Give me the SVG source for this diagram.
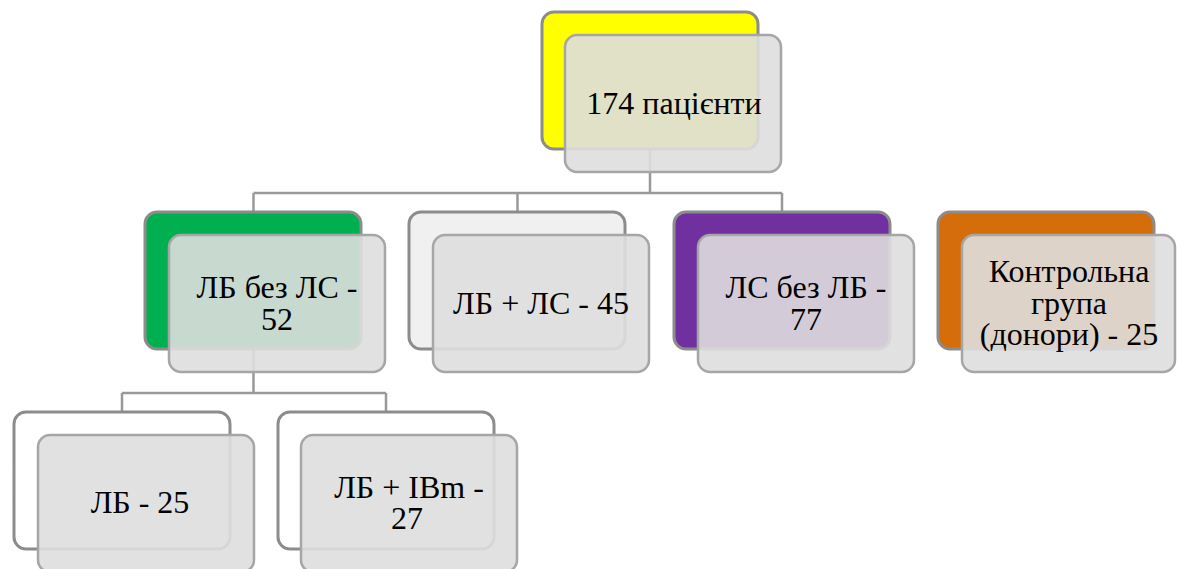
<svg xmlns="http://www.w3.org/2000/svg" width="1177" height="569" viewBox="0 0 1177 569">
<style>
.back{stroke:#8c8c8c;stroke-width:3}
.front{fill:#dedede;fill-opacity:0.9;stroke:#a6a6a6;stroke-width:2.5}
.lbl{font-family:'Liberation Serif','Times New Roman',serif;font-size:32px;fill:#000;text-anchor:middle}
.conn{stroke:#999999;stroke-width:2.5;fill:none}
</style>
<rect width="1177" height="569" fill="#ffffff"/>
<g id="connectors">
<path class="conn" d="M650,149 V193 M253.5,193 H782 M253.5,193 V212 M517.5,193 V212 M782,193 V212"/>
<path class="conn" d="M253.5,349 V393 M122,393 H386 M122,393 V412 M386,393 V412"/>
</g>
<g id="node-root">
<rect class="back" x="542" y="12" width="216" height="137" rx="12" fill="#ffff00"/>
<rect class="front" x="565" y="35" width="216" height="137" rx="12"/>
<text class="lbl" x="674" y="114">174 пацієнти</text>
</g>
<g id="node-lb-bez-ls">
<rect class="back" x="145" y="212" width="216" height="137" rx="12" fill="#00b050"/>
<rect class="front" x="169" y="235" width="216" height="137" rx="12"/>
<text class="lbl" x="277" y="298">ЛБ без ЛС -<tspan x="277" dy="32">52</tspan></text>
</g>
<g id="node-lb-ls">
<rect class="back" x="409" y="212" width="216" height="137" rx="12" fill="#f0f0f0"/>
<rect class="front" x="433" y="235" width="216" height="137" rx="12"/>
<text class="lbl" x="541" y="314">ЛБ + ЛС - 45</text>
</g>
<g id="node-ls-bez-lb">
<rect class="back" x="674" y="212" width="216" height="137" rx="12" fill="#7030a0"/>
<rect class="front" x="698" y="235" width="216" height="137" rx="12"/>
<text class="lbl" x="806" y="298">ЛС без ЛБ -<tspan x="806" dy="32">77</tspan></text>
</g>
<g id="node-control">
<rect class="back" x="938" y="212" width="216" height="137" rx="12" fill="#d56d0a"/>
<rect class="front" x="962" y="235" width="213" height="137" rx="12"/>
<text class="lbl" x="1069" y="282">Контрольна<tspan x="1069" dy="31.5">група</tspan><tspan x="1069" dy="31.5">(донори) - 25</tspan></text>
</g>
<g id="node-lb-25">
<rect class="back" x="14" y="412" width="216" height="137" rx="12" fill="#ffffff"/>
<rect class="front" x="38" y="435" width="216" height="137" rx="12"/>
<text class="lbl" x="140" y="513">ЛБ - 25</text>
</g>
<g id="node-lb-ibm">
<rect class="back" x="278" y="412" width="216" height="137" rx="12" fill="#ffffff"/>
<rect class="front" x="301" y="435" width="216" height="137" rx="12"/>
<text class="lbl" x="409" y="498">ЛБ + ІВm -<tspan x="407" dy="31">27</tspan></text>
</g>
</svg>
